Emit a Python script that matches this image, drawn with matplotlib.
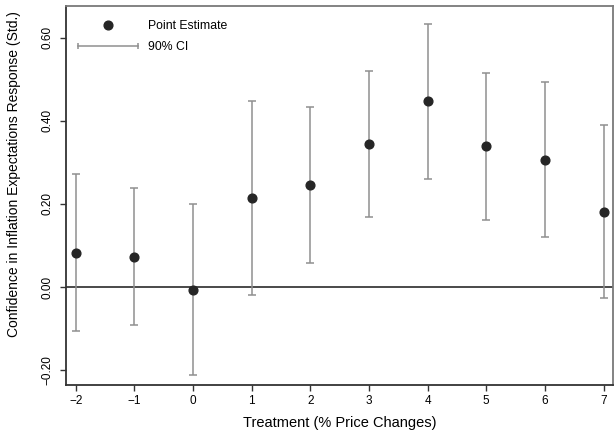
import matplotlib
matplotlib.use("Agg")
import matplotlib.pyplot as plt
from matplotlib.lines import Line2D
from matplotlib.legend_handler import HandlerLine2D
from matplotlib.ticker import FuncFormatter

plt.rcParams['font.family'] = ['Liberation Sans', 'DejaVu Sans']

treatment = [-2, -1, 0, 1, 2, 3, 4, 5, 6, 7]
estimate = [0.083, 0.073, -0.006, 0.215, 0.245, 0.345, 0.447, 0.339, 0.307, 0.181]
ci_low = [-0.105, -0.092, -0.212, -0.020, 0.057, 0.168, 0.261, 0.161, 0.121, -0.027]
ci_high = [0.271, 0.238, 0.199, 0.449, 0.433, 0.521, 0.634, 0.516, 0.493, 0.390]
yticks = [-0.20, 0.00, 0.20, 0.40, 0.60]
xticks = [-2, -1, 0, 1, 2, 3, 4, 5, 6, 7]

fig = plt.figure(figsize=(6.15, 4.34), dpi=100)
ax = fig.add_axes([0.1073, 0.1129, 0.8894, 0.8744])

ax.axhline(0, color='#3a3a3a', lw=1.3, zorder=1)

err_lo = [e - l for e, l in zip(estimate, ci_low)]
err_hi = [h - e for e, h in zip(estimate, ci_high)]
ax.errorbar(treatment, estimate, yerr=[err_lo, err_hi], fmt='none',
            ecolor='#8f8f8f', elinewidth=1.1, capsize=3.0, capthick=1.1, zorder=2)
ax.plot(treatment, estimate, 'o', color='#262626', ms=6.3, zorder=3)

ax.set_xlim(-2.165, 7.16)
ax.set_ylim(-0.236, 0.678)
ax.set_xticks(xticks)
ax.set_yticks(yticks)
ax.yaxis.set_major_formatter(FuncFormatter(lambda v, p: f"{v:.2f}".replace('-', '\u2212')))
ax.tick_params(axis='both', direction='out', length=4, width=1, color='#333333',
               labelsize=8.5)
ax.tick_params(axis='y', pad=5)
for lab in ax.get_yticklabels():
    lab.set_rotation(90)
    lab.set_va('center')

for s in ['left', 'bottom']:
    ax.spines[s].set_color('#333333')
    ax.spines[s].set_linewidth(1.3)
for s in ['top', 'right']:
    ax.spines[s].set_color('#7a7a7a')
    ax.spines[s].set_linewidth(1.3)

ax.set_xlabel('Treatment (% Price Changes)', fontsize=10.5, labelpad=6)
ax.set_ylabel('Confidence in Inflation Expectations Response (Std.)', fontsize=10)
ax.yaxis.set_label_coords(-0.082, 0.557)

h_pt = Line2D([], [], ls='none', marker='o', color='#262626', ms=6.3)
h_ci = Line2D([], [], color='#8f8f8f', lw=1.1, marker='|', ms=5, mew=1.1)
ax.legend([h_pt, h_ci], ['Point Estimate', '90% CI'],
          handler_map={h_ci: HandlerLine2D(numpoints=2, marker_pad=0)},
          loc='upper left', bbox_to_anchor=(0.022, 0.962), frameon=False,
          fontsize=8.8, handlelength=4.9, handletextpad=0.82, labelspacing=0.75,
          borderpad=0, borderaxespad=0)

fig.savefig('out.png', dpi=100)
